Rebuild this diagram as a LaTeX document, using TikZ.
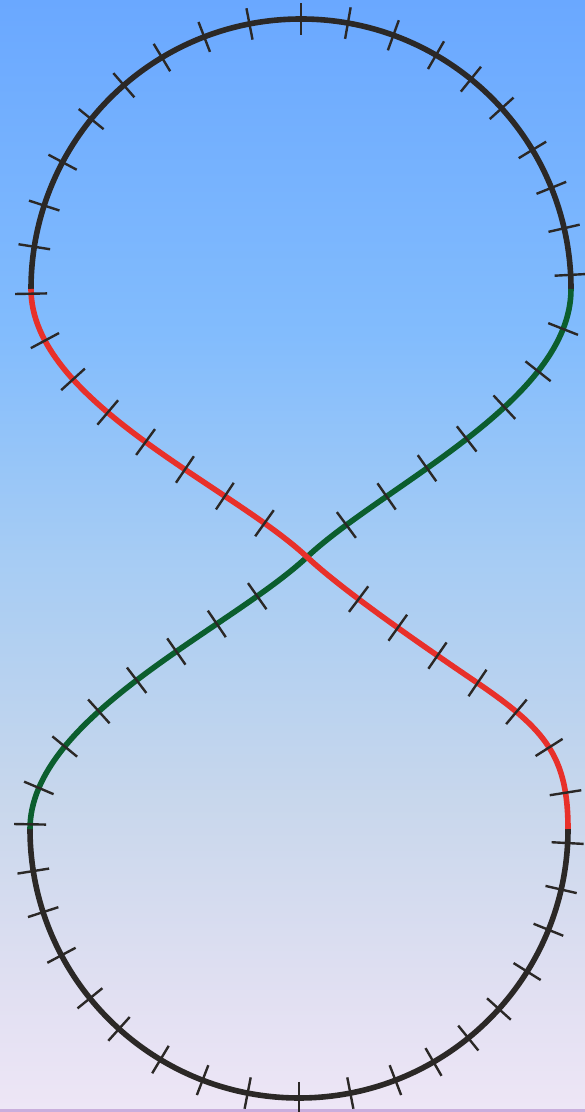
\documentclass[tikz,border=0pt]{standalone}
\usepackage{xcolor}
\usepackage{tikz}
\usetikzlibrary{decorations.markings}
\definecolor{trackblack}{HTML}{2B2826}
\definecolor{trackred}{HTML}{E8302A}
\definecolor{trackgreen}{HTML}{0B5E2E}
\definecolor{skytop}{HTML}{6AA8FF}
\definecolor{skyupper}{HTML}{82BCFD}
\definecolor{skymid}{HTML}{A6CCF4}
\definecolor{skylower}{HTML}{C8D7EC}
\definecolor{skylow}{HTML}{E2E0F2}
\definecolor{skybottom}{HTML}{EEE6F6}
\definecolor{skyrim}{HTML}{C9AEDD}
\pgfdeclareverticalshading{skyfade}{100bp}{color(0bp)=(skybottom); color(25bp)=(skybottom);
  color(30bp)=(skylow); color(39bp)=(skylower); color(50bp)=(skymid);
  color(60bp)=(skyupper); color(75bp)=(skytop); color(100bp)=(skytop)}

% the two crossing runs of the figure eight
\newcommand{\greentrack}{(tr) .. controls (571,711) and (384,627) .. (cross)
  .. controls (230,483) and (30,395) .. (bl)}
\newcommand{\redtrack}{(tl) .. controls (31,711) and (230,627) .. (cross)
  .. controls (343.5,521) and (420,468) .. (redbend)
  .. controls (546,382) and (568,355) .. (br)}

\begin{document}
\begin{tikzpicture}[x=1pt, y=1pt,
    rail/.style={line width=5.6pt},
    tie/.style={draw=trackblack, line width=2.4pt}]
  \useasboundingbox (0,0) rectangle (585,1112);
  \shade[shading=skyfade] (0,0) rectangle (585,1112);
  \fill[skyrim] (0,0) rectangle (585,3);

  \coordinate (topc) at (301,823);
  \coordinate (botc) at (299,283);
  \coordinate (tl) at (31,823);
  \coordinate (tr) at (571,823);
  \coordinate (bl) at (30,283);
  \coordinate (br) at (568,283);
  \coordinate (cross) at (307,555);
  \coordinate (redbend) at (479,428);

  % track
  \draw[rail, trackblack] (tr) arc[start angle=0, end angle=180, radius=270pt];
  \draw[rail, trackblack] (bl) arc[start angle=180, end angle=360, radius=269pt];
  \draw[rail, trackgreen] \greentrack;
  \draw[rail, trackred] \redtrack;

  % sleepers
  \foreach \a in {3,13,22,31,42,51,60,70,80,90,101,111,121,131,141,152,162,171,181}
    \draw[tie, shift={(topc)}, rotate=\a] (254pt,0pt) -- (286pt,0pt);
  \foreach \a in {179,189,198,208,219,228,239,249,259,270,281,291,300,309,318,328,338,347,357}
    \draw[tie, shift={(botc)}, rotate=\a] (253pt,0pt) -- (285pt,0pt);
  \path[postaction={decorate}, decoration={markings,
      mark=between positions 41pt and 340pt step 49.3pt with {\draw[tie] (0pt,-16pt) -- (0pt,16pt);},
      mark=between positions 451pt and 750pt step 49pt with {\draw[tie] (0pt,-16pt) -- (0pt,16pt);}}]
    \greentrack;
  \path[postaction={decorate}, decoration={markings,
      mark=between positions 54pt and 345pt step 48pt with {\draw[tie] (0pt,-16pt) -- (0pt,16pt);},
      mark=between positions 463pt and 760pt step 48.5pt with {\draw[tie] (0pt,-16pt) -- (0pt,16pt);}}]
    \redtrack;
\end{tikzpicture}
\end{document}
